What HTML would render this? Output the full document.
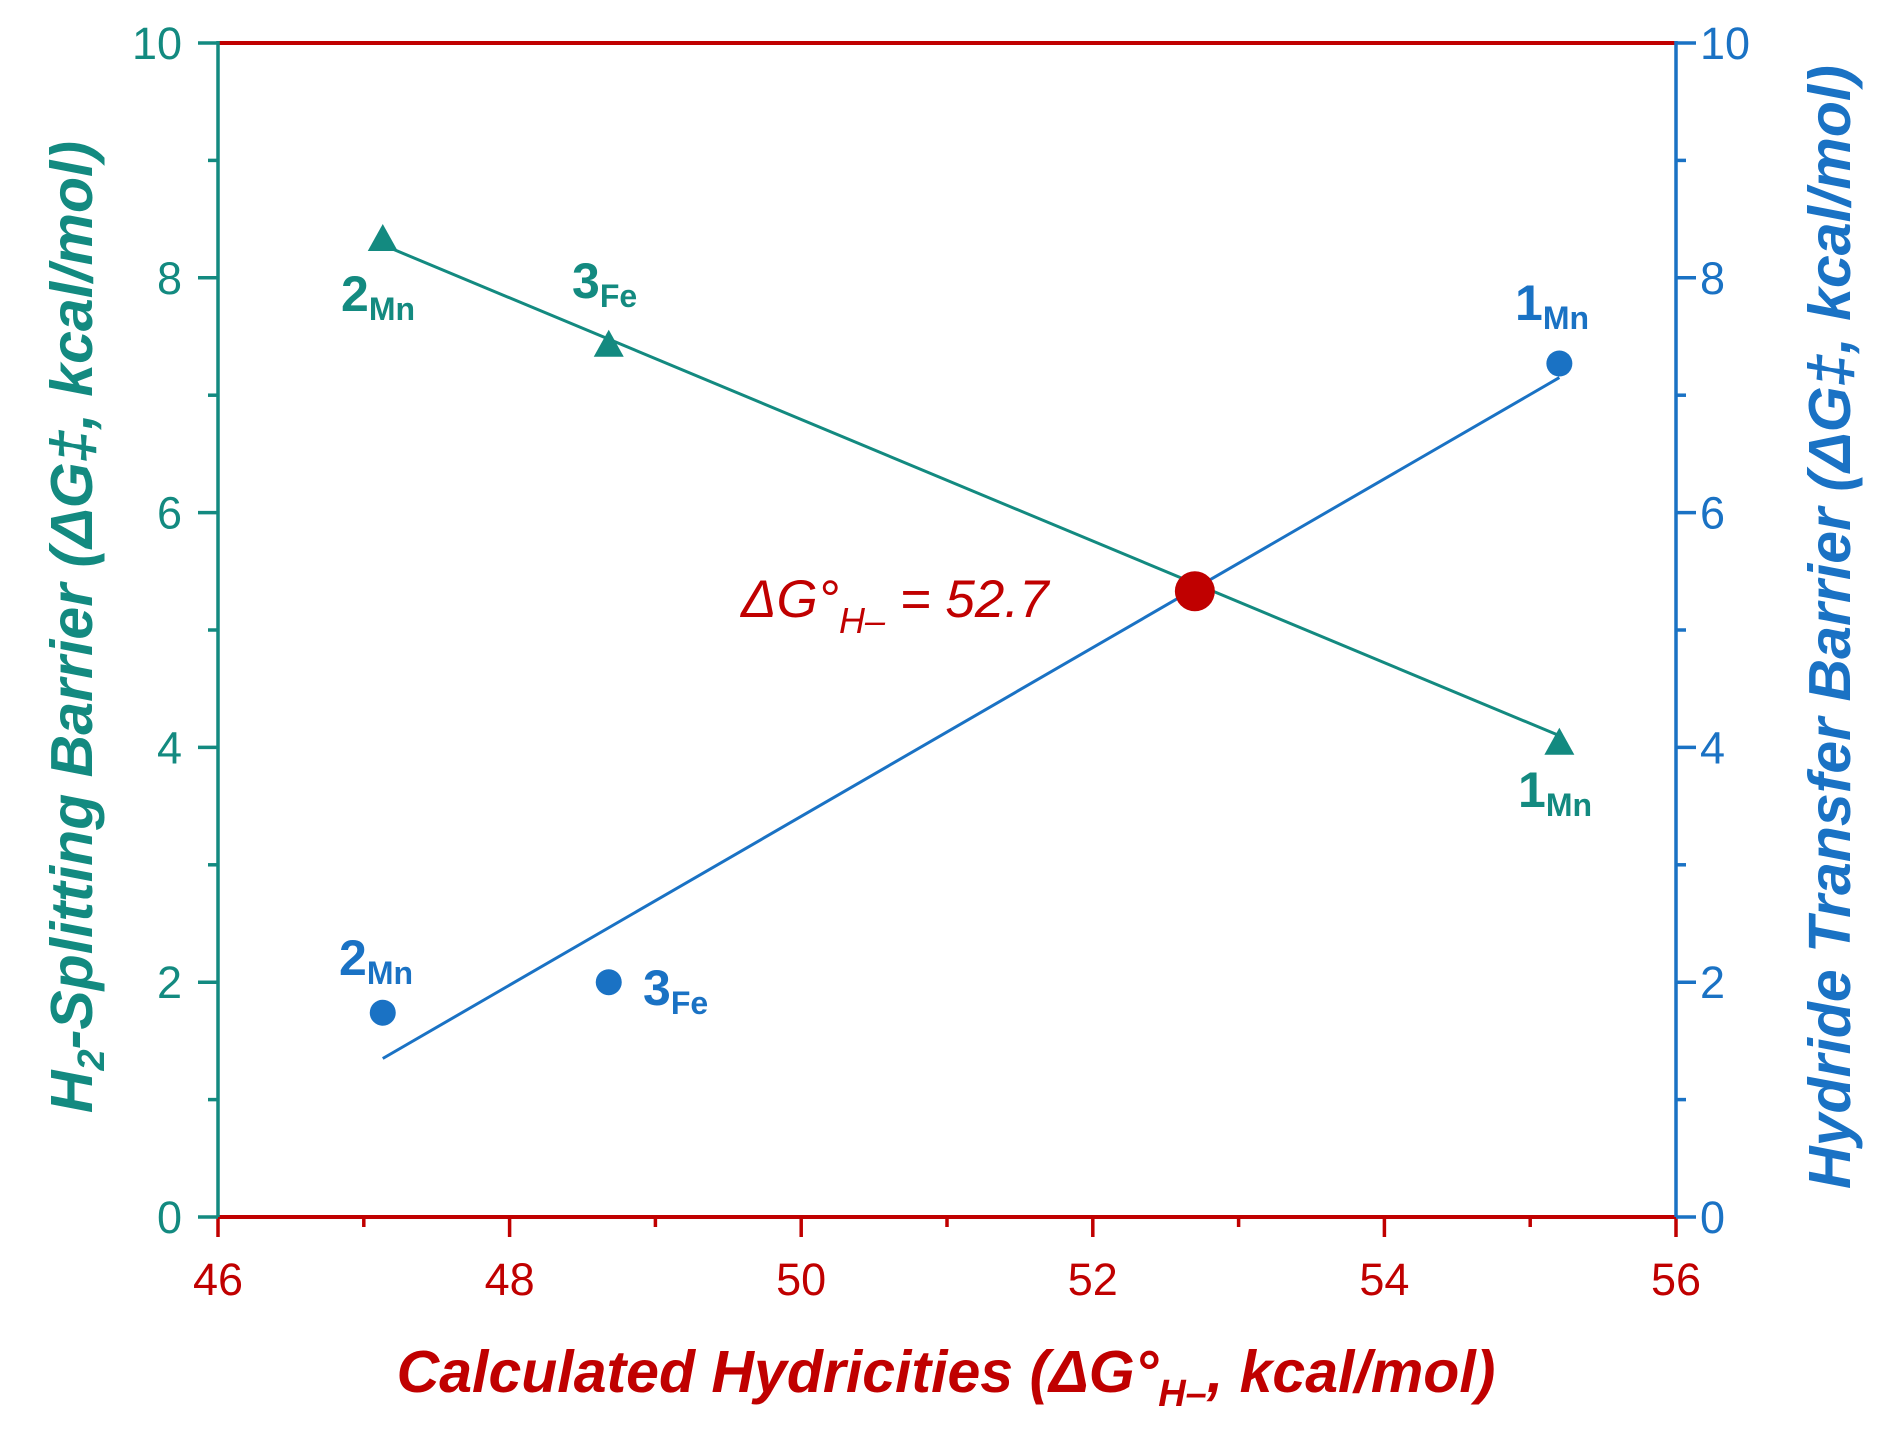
<!DOCTYPE html>
<html><head><meta charset="utf-8"><style>
html,body{margin:0;padding:0;background:#fff}
svg{display:block;font-family:"Liberation Sans",sans-serif}
</style></head><body>
<svg id="chart" width="1890" height="1440" viewBox="0 0 1890 1440" xmlns="http://www.w3.org/2000/svg">
<g id="axes"></g><g id="marks"></g>
<text transform="translate(92,627) rotate(-90)" text-anchor="middle" font-size="59" font-weight="bold" font-style="italic" fill="#138a80">H<tspan font-size="38" dy="12">2</tspan><tspan dy="-12">-Splitting Barrier (ΔG‡, kcal/mol)</tspan></text>
<text transform="translate(1850,627) rotate(-90)" text-anchor="middle" font-size="59" font-weight="bold" font-style="italic" fill="#1a72c4">Hydride Transfer Barrier (ΔG‡, kcal/mol)</text>
<text x="946" y="1392" text-anchor="middle" font-size="59" font-weight="bold" font-style="italic" fill="#c00000">Calculated Hydricities (ΔG°<tspan font-size="38" dy="14">H–</tspan><tspan dy="-14">, kcal/mol)</tspan></text>
<text x="741" y="617" font-size="53" font-style="italic" fill="#c00000">ΔG°<tspan font-size="36" dy="16">H–</tspan><tspan dy="-16"> = 52.7</tspan></text>
<g font-weight="bold" font-size="50">
<text x="341" y="311" fill="#138a80">2<tspan font-size="32" dy="9">Mn</tspan></text>
<text x="572" y="298" fill="#138a80">3<tspan font-size="32" dy="9">Fe</tspan></text>
<text x="1518" y="807" fill="#138a80">1<tspan font-size="32" dy="9">Mn</tspan></text>
<text x="1515" y="320" fill="#1a72c4">1<tspan font-size="32" dy="9">Mn</tspan></text>
<text x="339" y="975" fill="#1a72c4">2<tspan font-size="32" dy="9">Mn</tspan></text>
<text x="643" y="1005" fill="#1a72c4">3<tspan font-size="32" dy="9">Fe</tspan></text>
</g>
</svg>
<script>
const xTicks=[46,48,50,52,54,56];
const yTicks=[0,2,4,6,8,10];
const hydricity=[47.13,48.68,55.2];
const splitting=[8.33,7.43,4.04];
const hydride=[1.74,2.0,7.27];
const splitFitX=[47.13,55.2];
const splitFitY=[8.28,4.1];
const hydrFitX=[47.13,55.2];
const hydrFitY=[1.35,7.15];
const crossX=[52.7];
const crossY=[5.33];
const L=218,R=1676,T=43,B=1217;
const sx=v=>L+(v-46)/10*(R-L);
const sy=v=>B-v/10*(B-T);
const NS="http://www.w3.org/2000/svg";
const axes=document.getElementById('axes'),marks=document.getElementById('marks');
function mk(tag,attrs,parent){const e=document.createElementNS(NS,tag);for(const k in attrs)e.setAttribute(k,attrs[k]);parent.appendChild(e);return e;}
const T_='#138a80',BL='#1a72c4',RD='#c00000';
let e;
e=mk('line',{x1:L,y1:T,x2:R,y2:T,stroke:RD,'stroke-width':4},axes);


e=mk('line',{x1:L,y1:B,x2:R,y2:B,stroke:RD,'stroke-width':4},axes);


e=mk('line',{x1:L,y1:T-2,x2:L,y2:B,stroke:T_,'stroke-width':3.5},axes);


e=mk('line',{x1:R,y1:T-2,x2:R,y2:B,stroke:BL,'stroke-width':3.5},axes);


for(let v=46;v<=56;v++){const maj=v%2===0;
 e=mk('line',{x1:sx(v),y1:B,x2:sx(v),y2:B+(maj?20:10),stroke:RD,'stroke-width':3.5},axes);
 
 }
xTicks.forEach(v=>{e=mk('text',{x:sx(v),y:1295,'text-anchor':'middle','font-size':45,fill:RD},axes);e.textContent=v;
 
 });
for(let v=0;v<=10;v++){const maj=v%2===0;
 e=mk('line',{x1:L-(maj?20:10),y1:sy(v),x2:L,y2:sy(v),stroke:T_,'stroke-width':3.5},axes);
 
 
 e=mk('line',{x1:R,y1:sy(v),x2:R+(maj?20:10),y2:sy(v),stroke:BL,'stroke-width':3.5},axes);
 
 }
yTicks.forEach(v=>{
 e=mk('text',{x:182,y:sy(v)+16,'text-anchor':'end','font-size':45,fill:T_},axes);e.textContent=v;
 
 
 e=mk('text',{x:1700,y:sy(v)+16,'text-anchor':'start','font-size':45,fill:BL},axes);e.textContent=v;
 
 });
e=mk('line',{x1:sx(splitFitX[0]),y1:sy(splitFitY[0]),x2:sx(splitFitX[1]),y2:sy(splitFitY[1]),stroke:T_,'stroke-width':3},marks);


e=mk('line',{x1:sx(hydrFitX[0]),y1:sy(hydrFitY[0]),x2:sx(hydrFitX[1]),y2:sy(hydrFitY[1]),stroke:BL,'stroke-width':3},marks);


hydricity.forEach((h,i)=>{
 const x=sx(h),y=sy(splitting[i]);
 e=mk('polygon',{points:`${x},${y-15} ${x-15},${y+12} ${x+15},${y+12}`,fill:T_},marks);
 
 
 e=mk('circle',{cx:x,cy:sy(hydride[i]),r:13,fill:BL},marks);
 
 
});
e=mk('circle',{cx:sx(crossX[0]),cy:sy(crossY[0]),r:20,fill:RD},marks);


</script>
</body></html>
